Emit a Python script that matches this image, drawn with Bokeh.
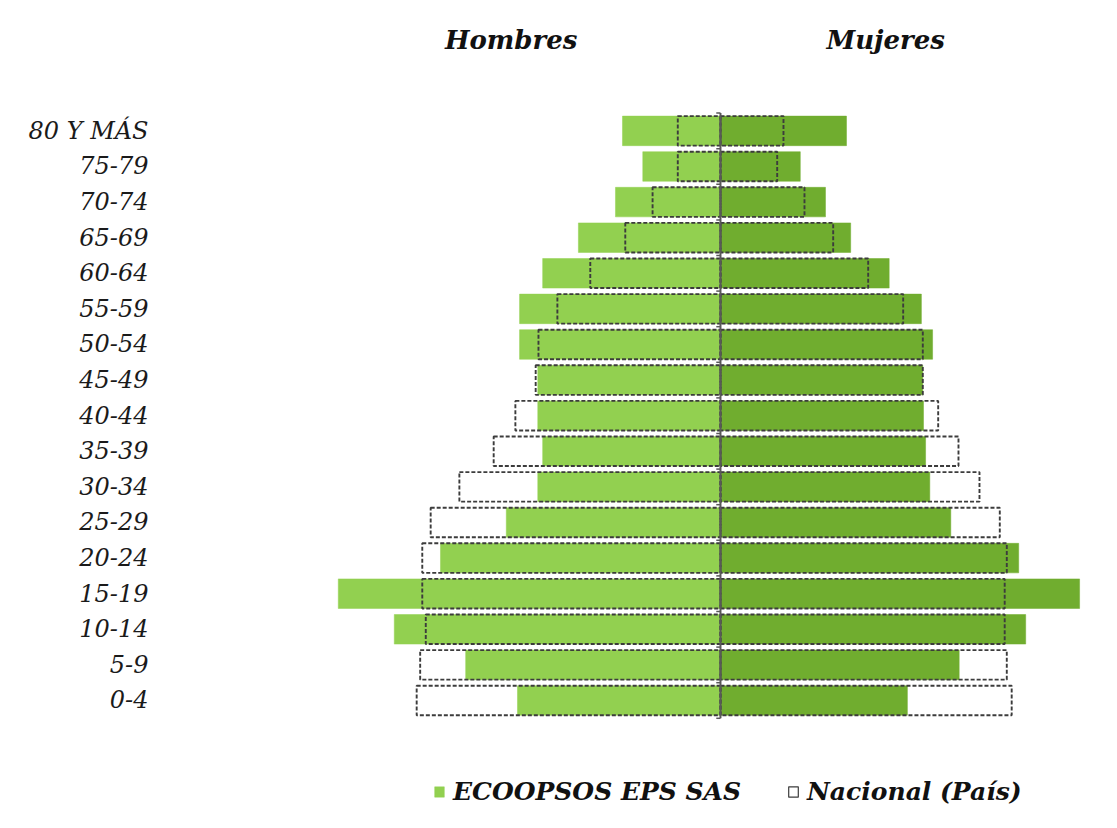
import numpy as np
from bokeh.plotting import figure
from bokeh.models import (ColumnDataSource, Range1d, FixedTicker,
                          Label, Legend, LegendItem)
from bokeh.embed import file_html
from bokeh.resources import INLINE

# ---- data (percent of population), ordered bottom -> top
age_groups = ["0-4", "5-9", "10-14", "15-19", "20-24", "25-29", "30-34", "35-39",
              "40-44", "45-49", "50-54", "55-59", "60-64", "65-69", "70-74",
              "75-79", "80 Y MÁS"]
eco_hombres = [2.90, 3.64, 4.66, 5.46, 4.00, 3.06, 2.61, 2.54, 2.61, 2.61,
               2.87, 2.87, 2.54, 2.03, 1.50, 1.11, 1.40]
eco_mujeres = [2.67, 3.41, 4.36, 5.13, 4.26, 3.29, 2.99, 2.93, 2.90, 2.89,
               3.03, 2.87, 2.41, 1.86, 1.50, 1.14, 1.80]
nac_hombres = [4.34, 4.29, 4.21, 4.26, 4.26, 4.14, 3.73, 3.24, 2.93, 2.64,
               2.60, 2.33, 1.86, 1.36, 0.97, 0.61, 0.61]
nac_mujeres = [4.16, 4.09, 4.06, 4.06, 4.09, 3.99, 3.70, 3.40, 3.11, 2.89,
               2.89, 2.61, 2.11, 1.61, 1.20, 0.81, 0.90]
side_titles = ["Hombres", "Mujeres"]
legend_labels = ["ECOOPSOS EPS SAS", "Nacional (País)"]

idx = np.arange(len(age_groups))
src = ColumnDataSource(dict(
    y=idx,
    eco_h=-np.array(eco_hombres), eco_m=np.array(eco_mujeres),
    nac_h=-np.array(nac_hombres), nac_m=np.array(nac_mujeres),
))

LIGHT = "#92d050"
DARK = "#70ad2f"
DASH = "#3c3c3c"
AXC = "#595959"
SERIF = "DejaVu Serif"

p = figure(width=1101, height=820, output_backend="svg", toolbar_location=None,
           x_range=Range1d(-8.071, 5.443), y_range=Range1d(-3.371, 19.438),
           x_axis_location=None, min_border_left=155, min_border_right=0,
           min_border_top=8, min_border_bottom=0)
p.outline_line_color = None
p.grid.visible = False
p.background_fill_color = "white"
p.border_fill_color = "white"

H = 0.83
r_eh = p.hbar(y="y", left="eco_h", right=0, height=H, source=src,
              fill_color=LIGHT, line_color=LIGHT, line_width=0.5)
p.hbar(y="y", left=0, right="eco_m", height=H, source=src,
       fill_color=DARK, line_color=DARK, line_width=0.5)
p.hbar(y="y", left="nac_h", right=0, height=H, source=src,
       fill_alpha=0, line_color=DASH, line_width=1.9, line_dash="4 2")
p.hbar(y="y", left=0, right="nac_m", height=H, source=src,
       fill_alpha=0, line_color=DASH, line_width=1.9, line_dash="4 2")
# legend proxy for "Nacional" (solid outlined white square, no visible mark)
r_nac_leg = p.hbar(y=[np.nan], left=[np.nan], right=[np.nan], height=H,
                   fill_color="white", line_color=DASH, line_width=1.2)

# central zero line with small tick hooks at the row boundaries
lo, hi = float(idx.min()) - 0.5, float(idx.max()) + 0.5
bounds = np.arange(len(age_groups) + 1) - 0.5
p.segment(x0=0, y0=lo, x1=0, y1=hi, line_color=AXC, line_width=2)
p.segment(x0=-0.06, y0=bounds, x1=0, y1=bounds, line_color=AXC, line_width=1.5)

# category labels axis
yax = p.yaxis[0]
yax.ticker = FixedTicker(ticks=list(idx))
yax.major_label_overrides = {int(i): g for i, g in zip(idx, age_groups)}
yax.axis_line_color = None
yax.major_tick_line_color = None
yax.minor_tick_line_color = None
yax.major_tick_out = 0
yax.major_tick_in = 0
yax.major_label_standoff = 7
yax.major_label_text_font = SERIF
yax.major_label_text_font_style = "italic"
yax.major_label_text_font_size = "24px"
yax.major_label_text_color = "#1a1a1a"

for txt, xpos in zip(side_titles, [-2.99, 2.36]):
    p.add_layout(Label(x=xpos, y=18.54, text=txt, text_align="center",
                       text_baseline="middle", text_font=SERIF,
                       text_font_style="bold italic", text_font_size="26px",
                       text_color="#111111"))

legend = Legend(items=[LegendItem(label=legend_labels[0], renderers=[r_eh]),
                       LegendItem(label=legend_labels[1], renderers=[r_nac_leg])],
                orientation="horizontal", location=(278, 14),
                glyph_width=12, glyph_height=13, label_standoff=8, spacing=46,
                padding=0, margin=0, border_line_color=None,
                background_fill_alpha=0, label_text_font=SERIF,
                label_text_font_style="bold italic", label_text_font_size="25px",
                label_text_color="#111111")
p.add_layout(legend)

open("out.html", "w").write(file_html(p, INLINE))
